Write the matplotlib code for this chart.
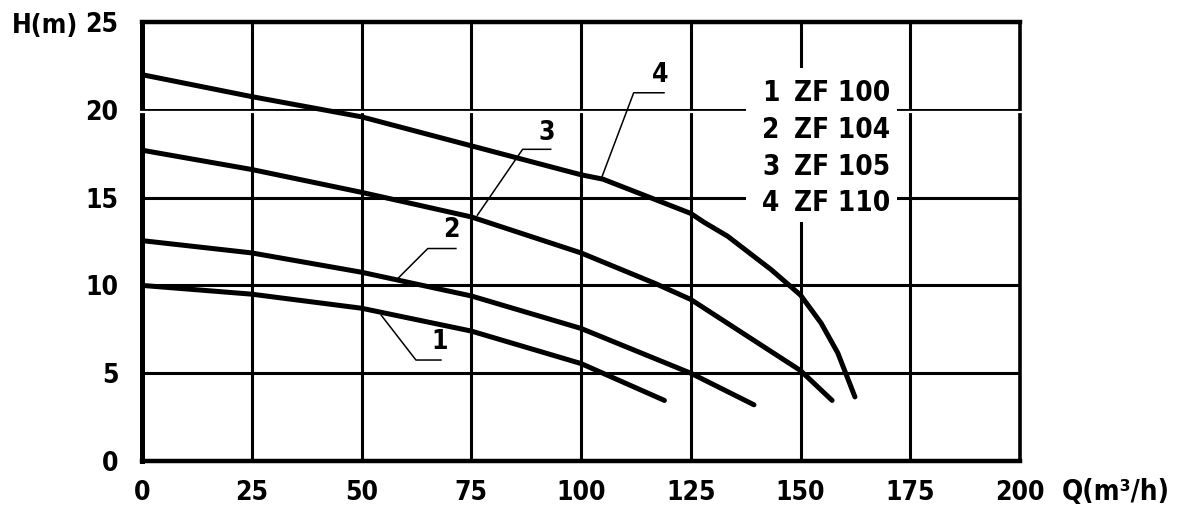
import matplotlib
matplotlib.use("Agg")
import matplotlib.pyplot as plt
from matplotlib.patches import Rectangle

plt.rcParams['font.family'] = ['DejaVu Sans']
plt.rcParams['font.stretch'] = 'condensed'

# ---- data ----
q1 = [0, 25, 50, 75, 100, 119]
h1 = [10.0, 9.5, 8.7, 7.4, 5.55, 3.45]

q2 = [0, 25, 50, 75, 100, 125, 139.4]
h2 = [12.55, 11.85, 10.75, 9.4, 7.55, 5.0, 3.2]

q3 = [0, 25, 50, 75, 100, 117, 125, 150, 157.2]
h3 = [17.7, 16.6, 15.3, 13.9, 11.85, 10.1, 9.2, 5.15, 3.45]

q4 = [0, 25, 50, 75, 100, 105, 125, 128, 133.4, 143.3, 150, 154.7, 158.5, 162.4]
h4 = [22.0, 20.75, 19.6, 17.95, 16.3, 16.05, 14.1, 13.6, 12.8, 10.9, 9.45, 7.85, 6.15, 3.65]

curve_ids = ['1', '2', '3', '4']
models = ['ZF 100', 'ZF 104', 'ZF 105', 'ZF 110']

# leader lines (curve point -> elbow -> end) and label positions
leaders_q = [[54.5, 62.4, 68.1], [57.9, 65.1, 71.5], [76.4, 86.7, 93.1], [104.8, 112.0, 118.9]]
leaders_h = [[8.3, 5.75, 5.75], [10.3, 12.1, 12.1], [14.0, 17.75, 17.75], [16.2, 20.97, 20.97]]
label_q = [67.9, 70.4, 92.2, 118.0]
label_h = [6.8, 13.15, 18.7, 22.0]

x_ticks = [0, 25, 50, 75, 100, 125, 150, 175, 200]
y_ticks = [0, 5, 10, 15, 20, 25]

legend_h = [20.94, 18.85, 16.77, 14.68]

FS = 19

# ---- figure ----
W, H = 1190, 513
fig = plt.figure(figsize=(W / 100, H / 100), dpi=100)
ax = fig.add_axes([142 / W, 52 / H, 878 / W, 439 / H])

ax.set_xlim(0, 200)
ax.set_ylim(0, 25)
ax.set_xticks(x_ticks)
ax.set_yticks(y_ticks)
ax.set_xticklabels([str(v) for v in x_ticks], fontsize=FS, fontweight='bold',
                   fontstretch='condensed')
ax.set_yticklabels([str(v) for v in y_ticks], fontsize=FS, fontweight='bold',
                   fontstretch='condensed')
ax.tick_params(length=0)
ax.tick_params(axis='y', pad=17)
ax.tick_params(axis='x', pad=14)

ax.set_axisbelow(True)
ax.grid(True, color='black', linewidth=2.2)

for side, lw in [('left', 3.6), ('top', 3.2), ('bottom', 3.2), ('right', 2.6)]:
    ax.spines[side].set_linewidth(lw)
    ax.spines[side].set_color('black')

# white stripe just below the 20 m line (as in the scan)
ax.plot([-1.5, 201.5], [19.87, 19.87], color='white', linewidth=1.6,
        solid_capstyle='butt', zorder=3, clip_on=False)

# white box behind the legend text
ax.add_patch(Rectangle((137.6, 13.6), 34.4, 8.8, facecolor='white',
                       edgecolor='none', zorder=1))

# curves
for q, h in [(q1, h1), (q2, h2), (q3, h3), (q4, h4)]:
    ax.plot(q, h, color='black', linewidth=3.6, solid_capstyle='round',
            solid_joinstyle='round', zorder=4)

# leader lines and numbers
for lq, lh, tq, th, cid in zip(leaders_q, leaders_h, label_q, label_h, curve_ids):
    ax.plot(lq, lh, color='black', linewidth=1.1, zorder=4)
    ax.text(tq, th, cid, fontsize=FS, fontweight='bold', ha='center',
            va='center', zorder=5, fontstretch='condensed')

# legend text
for cid, m, yh in zip(curve_ids, models, legend_h):
    ax.text(141.3, yh, cid, fontsize=FS + 1, fontweight='bold', ha='left',
            va='center', zorder=5, fontstretch='condensed')
    ax.text(148.5, yh, m, fontsize=FS + 1, fontweight='bold', ha='left',
            va='center', zorder=5, fontstretch='condensed')

# axis titles
fig.text(12 / W, 1 - 26 / H, 'H(m)', fontsize=FS, fontweight='bold',
         ha='left', va='center', fontstretch='condensed')
fig.text(1062 / W, 1 - 492 / H, 'Q(m³/h)', fontsize=FS + 1, fontweight='bold',
         ha='left', va='center', fontstretch='condensed')

fig.savefig('out.png', dpi=100, facecolor='white')
